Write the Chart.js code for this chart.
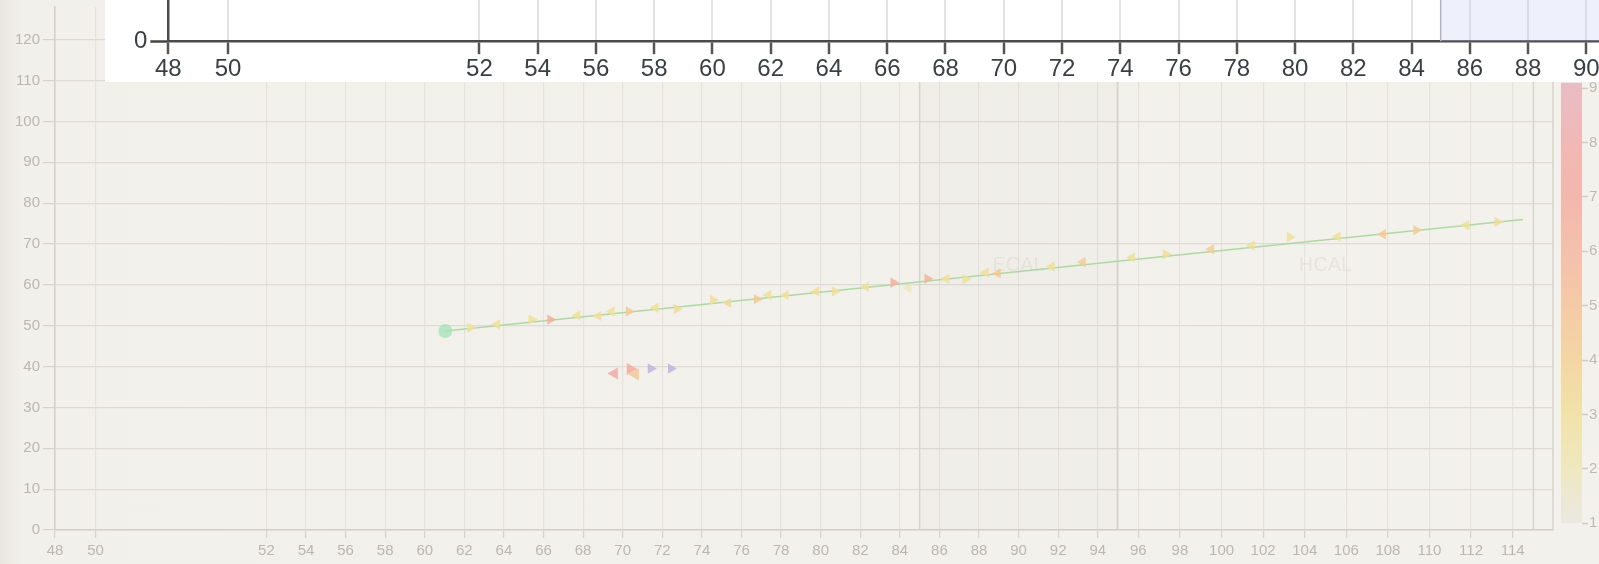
<!DOCTYPE html>
<html>
<head>
<meta charset="utf-8">
<script src="https://cdn.jsdelivr.net/npm/chart.js@4.4.1/dist/chart.umd.min.js"></script>
<style>
  html, body { margin: 0; padding: 0; overflow: hidden; }
  #stage {
    position: relative; width: 1599px; height: 564px; overflow: hidden;
    background: linear-gradient(to right, #e9e6e0 0px, #f2f0eb 22px, #f3f1ec 100%);
    font-family: "Liberation Sans", Arial, sans-serif;
  }
  .box { position: absolute; }
  #bgBox { left: 0; top: -5px; width: 1560px; height: 569px; }
  #zoomPanel { position: absolute; left: 105px; top: 0; width: 1494px; height: 82px; overflow: hidden; background: #fff; }
  #zoomBox { left: 0; top: -215px; width: 1627px; height: 300px; }
  #barBox { left: 1561px; top: 70px; width: 60px; height: 470px; }
</style>
</head>
<body>
<div id="stage">
  <div class="box" id="bgBox"><canvas id="eventChart"></canvas></div>
  <div id="barBox" class="box"><canvas id="energyBar"></canvas></div>
  <div id="zoomPanel">
    <div class="box" id="zoomBox"><canvas id="zoomChart"></canvas></div>
  </div>
</div>
<script>
// x tick labels
const xTickLabels = [48, 50, 52, 54, 56, 58, 60, 62, 64, 66, 68, 70, 72, 74, 76, 78, 80, 82, 84, 86, 88, 90, 92, 94, 96, 98, 100, 102, 104, 106, 108, 110, 112, 114];
// the x axis is piecewise: gap between 50 and 52, HCAL part drawn a bit wider
const xKnots = [48, 50, 52, 95, 116];
const xKnotUnits = [0, 2.05, 10.68, 53.68, 75.74];

// detector regions
const regionNames = ['ECAL', 'HCAL'];
const regionStart = [85, 95];
const regionEnd = [95, 115];

// reconstructed track
const trackX = [61.04, 73.9, 95.0, 114.49];
const trackY = [48.7, 55.1, 65.8, 76.0];
const vertexX = [61.04];
const vertexY = [48.7];

// hits along the track (energy -> colour bar)
const hitX = [62.3, 63.65, 65.39, 66.34, 67.71, 68.77, 69.44, 70.31, 71.66, 72.73, 74.56, 75.33, 76.78, 77.36, 78.23, 79.77, 80.72, 82.29, 83.68, 84.43, 85.39, 86.35, 87.32, 88.34, 88.95, 91.67, 93.24, 95.7, 97.32, 99.5, 101.45, 103.29, 105.58, 107.76, 109.37, 111.77, 113.27];
const hitY = [49.5, 50.3, 51.5, 51.5, 52.5, 52.4, 53.5, 53.5, 54.4, 54.1, 56.3, 55.6, 56.5, 57.5, 57.5, 58.4, 58.4, 59.5, 60.5, 59.2, 61.5, 61.5, 61.4, 63.0, 62.8, 64.5, 65.6, 66.7, 67.5, 68.7, 69.6, 71.7, 71.8, 72.4, 73.4, 74.6, 75.4];
const hitE = [3, 3, 3, 6.5, 3, 3, 3, 4.5, 3, 3.2, 3, 3.4, 4.5, 3, 2.8, 3, 3, 3, 6.5, 1.8, 6, 3, 3, 3, 4.5, 3, 4.2, 3, 3, 4, 3, 2.8, 3, 4.5, 4.2, 3, 3.4];
const hitDir = [1, -1, 1, 1, -1, -1, -1, 1, -1, 1, 1, -1, 1, -1, -1, -1, 1, -1, 1, -1, 1, -1, 1, -1, -1, -1, -1, -1, 1, -1, -1, 1, -1, -1, 1, -1, 1];

// second, short cluster
const clusterX = [69.58, 70.38, 70.64];
const clusterY = [38.3, 39.4, 38.1];
const clusterE = [7.8, 7.0, 4.5];
const clusterDir = [-1, 1, -1];
const neutralX = [71.42, 72.44];
const neutralY = [39.5, 39.5];

// colour bar
const cbTicks = [1, 2, 3, 4, 5, 6, 7, 8, 9];
const cbColors = ['#e8e6e0', '#ede6b5', '#f0df98', '#f3cf92', '#f4c195', '#f4b49c', '#f2aa9c', '#f0aaa8', '#e6b0bb'];
const cbRange = [1, 9.1];

const FONT = '"Liberation Sans", Arial, sans-serif';

function hexRgb(h) {
  return [1, 3, 5].map(i => parseInt(h.slice(i, i + 2), 16));
}
function energyColor(e, alpha) {
  const i = Math.min(cbTicks.length - 2, Math.max(0, Math.floor(e - cbTicks[0])));
  const t = Math.min(1, Math.max(0, (e - cbTicks[i]) / (cbTicks[i + 1] - cbTicks[i])));
  const a = hexRgb(cbColors[i]), b = hexRgb(cbColors[i + 1]);
  const c = a.map((v, k) => Math.round(v + (b[k] - v) * t));
  return `rgba(${c[0]}, ${c[1]}, ${c[2]}, ${alpha})`;
}
function points(xs, ys) {
  return xs.map((x, i) => ({ x: x, y: ys[i] }));
}

// piecewise linear mapping value <-> axis units
function interp(v, from, to) {
  let i = 0;
  while (i < from.length - 2 && v > from[i + 1]) i++;
  return to[i] + (v - from[i]) * (to[i + 1] - to[i]) / (from[i + 1] - from[i]);
}

class BrokenLinearScale extends Chart.LinearScale {
  getPixelForValue(value) {
    const u0 = interp(this.min, xKnots, xKnotUnits);
    const u1 = interp(this.max, xKnots, xKnotUnits);
    return this.getPixelForDecimal((interp(value, xKnots, xKnotUnits) - u0) / (u1 - u0));
  }
  getValueForPixel(pixel) {
    const u0 = interp(this.min, xKnots, xKnotUnits);
    const u1 = interp(this.max, xKnots, xKnotUnits);
    return interp(u0 + this.getDecimalForPixel(pixel) * (u1 - u0), xKnotUnits, xKnots);
  }
}
BrokenLinearScale.id = 'brokenLinear';
BrokenLinearScale.defaults = Chart.LinearScale.defaults;
Chart.register(BrokenLinearScale);

function placeXTicks(scale) {
  scale.ticks = xTickLabels.filter(v => v >= scale.min && v <= scale.max).map(v => ({ value: v }));
}

const regionPlugin = {
  id: 'regions',
  beforeDatasetsDraw(chart, args, opts) {
    const { ctx, chartArea: a, scales: { x, y } } = chart;
    ctx.save();
    regionNames.forEach((name, i) => {
      const x0 = x.getPixelForValue(regionStart[i]);
      const x1 = x.getPixelForValue(regionEnd[i]);
      if (opts.fills[i]) {
        ctx.fillStyle = opts.fills[i];
        ctx.fillRect(x0, a.top, Math.min(x1, a.right) - x0, a.bottom - a.top);
      }
      ctx.strokeStyle = opts.edge;
      ctx.lineWidth = opts.edgeWidth;
      [x0, x1].forEach(px => {
        if (px < a.right) {
          ctx.beginPath();
          ctx.moveTo(px, a.top);
          ctx.lineTo(px, a.bottom);
          ctx.stroke();
        }
      });
      if (opts.labelColor) {
        ctx.fillStyle = opts.labelColor;
        ctx.font = '20px ' + FONT;
        ctx.textAlign = 'center';
        ctx.textBaseline = 'middle';
        ctx.fillText(name, (x0 + x1) / 2, y.getPixelForValue(opts.labelY));
      }
    });
    if (opts.frame) {
      ctx.strokeStyle = opts.frame;
      ctx.lineWidth = 1.5;
      ctx.beginPath();
      ctx.moveTo(a.right, a.top);
      ctx.lineTo(a.right, a.bottom);
      ctx.stroke();
    }
    ctx.restore();
  }
};

// faded event display in the background
new Chart(document.getElementById('eventChart'), {
  type: 'scatter',
  data: {
    datasets: [
      {
        label: 'track',
        data: points(trackX, trackY),
        showLine: true,
        borderColor: 'rgba(172, 214, 160, 0.95)',
        borderWidth: 1.5,
        pointRadius: 0,
        order: 5
      },
      {
        label: 'hits',
        data: points(hitX, hitY),
        pointStyle: 'triangle',
        pointRotation: hitDir.map(d => d > 0 ? 90 : -90),
        pointRadius: 6,
        pointBorderWidth: 0,
        pointBackgroundColor: hitE.map(e => energyColor(e, 0.85)),
        order: 2
      },
      {
        label: 'cluster',
        data: points(clusterX, clusterY),
        pointStyle: 'triangle',
        pointRotation: clusterDir.map(d => d > 0 ? 90 : -90),
        pointRadius: 7,
        pointBorderWidth: 0,
        pointBackgroundColor: clusterE.map(e => energyColor(e, 0.85)),
        order: 2
      },
      {
        label: 'neutral',
        data: points(neutralX, neutralY),
        pointStyle: 'triangle',
        pointRotation: 90,
        pointRadius: 6,
        pointBorderWidth: 0,
        pointBackgroundColor: 'rgba(186, 176, 222, 0.8)',
        order: 2
      },
      {
        label: 'vertex',
        data: points(vertexX, vertexY),
        pointRadius: 7,
        pointBorderWidth: 0,
        pointBackgroundColor: 'rgba(168, 226, 188, 0.8)',
        order: 1
      }
    ]
  },
  options: {
    responsive: true,
    maintainAspectRatio: false,
    animation: false,
    layout: { padding: { top: 0, right: 2, bottom: 0, left: 0 } },
    plugins: {
      legend: { display: false },
      tooltip: { enabled: false },
      regions: {
        fills: ['rgba(120, 110, 95, 0.025)', null],
        edge: '#d6d3cd',
        edgeWidth: 1.5,
        frame: '#d6d3cd',
        labelColor: 'rgba(210, 205, 197, 0.35)',
        labelY: 64.7
      }
    },
    scales: {
      x: {
        type: 'brokenLinear',
        min: 48,
        max: 115.94,
        afterBuildTicks: placeXTicks,
        ticks: {
          color: '#bab7b1',
          font: { family: FONT, size: 15 },
          padding: 4,
          maxRotation: 0,
          autoSkip: false
        },
        grid: { color: '#e6e3de', lineWidth: 1.2, tickLength: 8, tickColor: '#d6d3cd' },
        border: { color: '#d2cfc9', width: 1.5 }
      },
      y: {
        min: 0,
        max: 128,
        afterFit: s => { s.width = 55; },
        ticks: {
          stepSize: 10,
          includeBounds: false,
          color: '#bab7b1',
          font: { family: FONT, size: 15 },
          padding: 3
        },
        grid: { color: '#dedbd5', lineWidth: 1.2, tickLength: 12, tickColor: '#d6d3cd' },
        border: { color: '#d2cfc9', width: 1.5 }
      }
    }
  },
  plugins: [regionPlugin]
});

// colour bar on the right
new Chart(document.getElementById('energyBar'), {
  type: 'bar',
  data: {
    labels: ['E'],
    datasets: [{
      data: [cbRange],
      barPercentage: 1,
      categoryPercentage: 1,
      borderWidth: 0,
      backgroundColor: ctx => {
        const { chart } = ctx;
        if (!chart.chartArea) return cbColors[0];
        const y = chart.scales.y;
        const g = chart.ctx.createLinearGradient(0, y.getPixelForValue(cbTicks[0]), 0, y.getPixelForValue(cbTicks[cbTicks.length - 1]));
        cbColors.forEach((c, i) => {
          const rgb = hexRgb(c);
          g.addColorStop(i / (cbColors.length - 1), `rgba(${rgb[0]}, ${rgb[1]}, ${rgb[2]}, 0.8)`);
        });
        return g;
      }
    }]
  },
  options: {
    responsive: true,
    maintainAspectRatio: false,
    animation: false,
    layout: { padding: { top: 12.7, bottom: 16.7, left: 0, right: 0 } },
    plugins: { legend: { display: false }, tooltip: { enabled: false } },
    scales: {
      x: { display: false },
      y: {
        position: 'right',
        min: cbRange[0],
        max: cbRange[1],
        afterFit: s => { s.width = 39; },
        ticks: {
          stepSize: 1,
          includeBounds: false,
          color: '#bdbab4',
          font: { family: FONT, size: 15 },
          padding: 1
        },
        grid: { drawOnChartArea: false, tickLength: 6, tickColor: '#cfccc6', tickWidth: 1.5 },
        border: { display: false }
      }
    }
  }
});

// white zoom strip over the top
new Chart(document.getElementById('zoomChart'), {
  type: 'scatter',
  data: { datasets: [] },
  options: {
    responsive: true,
    maintainAspectRatio: false,
    animation: false,
    layout: { padding: 0 },
    plugins: {
      legend: { display: false },
      tooltip: { enabled: false },
      regions: {
        fills: ['rgba(200, 205, 245, 0.3)', null],
        edge: '#b4b4bc',
        edgeWidth: 1.5,
        frame: null,
        labelColor: null
      }
    },
    scales: {
      x: {
        type: 'brokenLinear',
        min: 48,
        max: 95,
        afterBuildTicks: placeXTicks,
        ticks: {
          color: '#3b3f45',
          font: { family: FONT, size: 24 },
          padding: 1,
          maxRotation: 0,
          autoSkip: false
        },
        grid: { color: '#e3e3e3', lineWidth: 2, tickLength: 13, tickColor: '#555', tickWidth: 2.5 },
        border: { color: '#4a4a4a', width: 2.5 }
      },
      y: {
        min: 0,
        max: 100,
        afterFit: s => { s.width = 63.3; },
        ticks: {
          stepSize: 50,
          color: '#3b3f45',
          font: { family: FONT, size: 24 },
          padding: 3
        },
        grid: { drawOnChartArea: false, tickLength: 18, tickColor: '#444', tickWidth: 2.5 },
        border: { color: '#4a4a4a', width: 2.5 }
      }
    }
  },
  plugins: [regionPlugin]
});
</script>
</body>
</html>
